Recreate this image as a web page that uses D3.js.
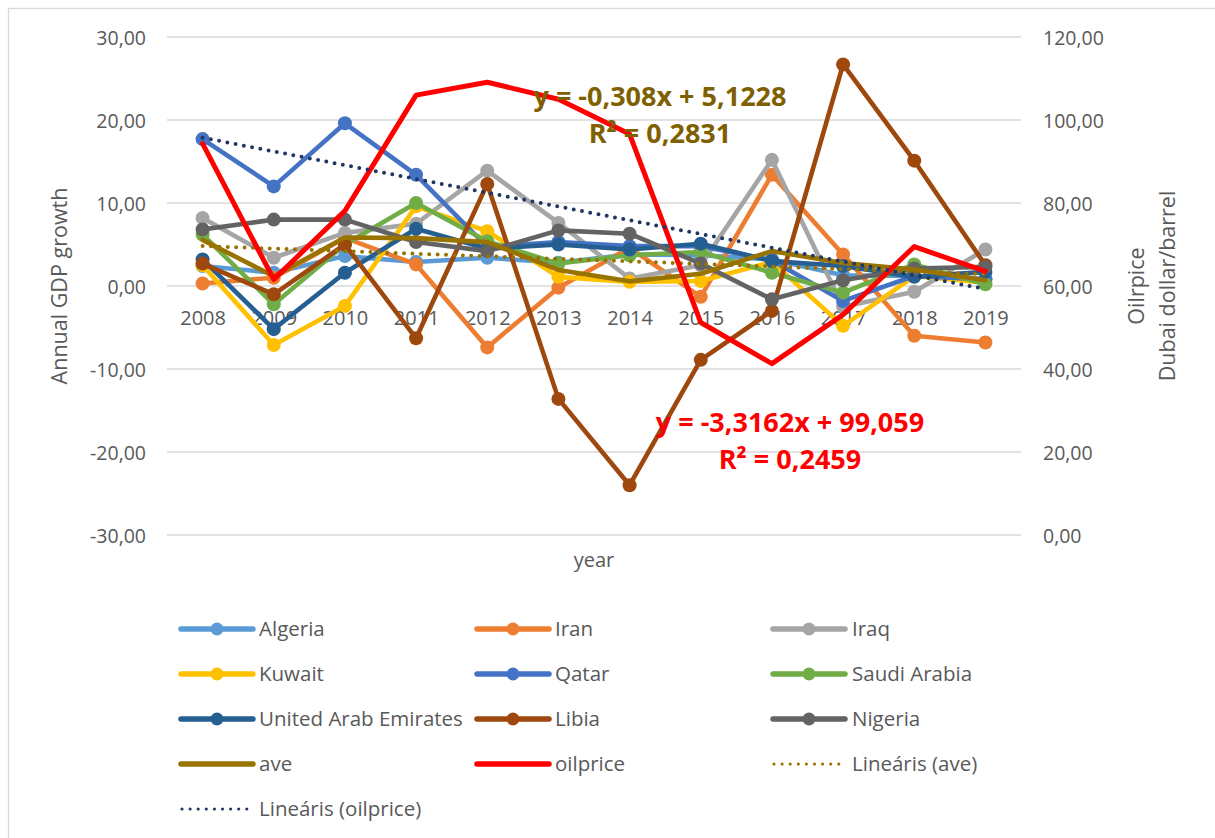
<!DOCTYPE html>
<html>
<head>
<meta charset="utf-8">
<script src="https://cdn.jsdelivr.net/npm/d3@7"></script>
<style>
  html, body { margin: 0; padding: 0; background: #fff; }
  svg { display: block; font-family: "Open Sans", "Liberation Sans", sans-serif; }
</style>
</head>
<body>
<svg id="chart" width="1215" height="838"></svg>
<script>
// ---- data ----
const years = ["2008","2009","2010","2011","2012","2013","2014","2015","2016","2017","2018","2019"];

const algeria = [2.4, 1.6, 3.6, 2.9, 3.4, 2.8, 3.8, 3.7, 3.2, 1.3, 1.2, 0.8];
const iran    = [0.3, 1.0, 5.8, 2.6, -7.4, -0.2, 4.6, -1.3, 13.4, 3.8, -6.0, -6.8];
const iraq    = [8.2, 3.4, 6.4, 7.5, 13.9, 7.6, 0.9, 2.5, 15.2, -2.5, -0.7, 4.4];
const kuwait  = [2.5, -7.1, -2.4, 9.6, 6.6, 1.1, 0.5, 0.6, 2.9, -4.8, 1.2, 0.4];
const qatar   = [17.7, 12.0, 19.6, 13.4, 4.7, 5.3, 4.8, 4.8, 3.1, -1.8, 1.2, 0.8];
const saudi   = [6.2, -2.2, 5.0, 10.0, 5.4, 2.7, 3.7, 4.1, 1.6, -0.8, 2.6, 0.2];
const uae     = [3.2, -5.2, 1.6, 6.9, 4.5, 5.0, 4.4, 5.1, 3.0, 2.4, 1.1, 1.7];
const libia   = [2.7, -1.0, 5.0, -6.3, 12.3, -13.6, -24.0, -8.9, -3.0, 26.7, 15.1, 2.5];
const nigeria = [6.8, 8.0, 8.0, 5.3, 4.2, 6.7, 6.3, 2.7, -1.6, 0.7, 2.1, 2.3];
const ave     = [5.56, 1.17, 5.84, 5.77, 5.29, 1.93, 0.56, 1.48, 4.20, 2.78, 1.98, 0.70];
const oilprice = [94.3, 61.6, 78.1, 106.0, 109.1, 105.0, 96.6, 51.2, 41.3, 53.1, 69.5, 63.5];

// linear trend coefficients [slope, intercept], x = 1..12
const aveTrend = [-0.308, 5.1228];
const oilTrend = [-3.3162, 99.059];
const aveTrendLabel = ["y = -0,308x + 5,1228", "R² = 0,2831"];
const oilTrendLabel = ["y = -3,3162x + 99,059", "R² = 0,2459"];

const leftTicks = [-30, -20, -10, 0, 10, 20, 30];
const rightTicks = [0, 20, 40, 60, 80, 100, 120];

const countries = [
  { name: "Algeria", values: algeria, color: "#5B9BD5" },
  { name: "Iran", values: iran, color: "#ED7D31" },
  { name: "Iraq", values: iraq, color: "#A5A5A5" },
  { name: "Kuwait", values: kuwait, color: "#FFC000" },
  { name: "Qatar", values: qatar, color: "#4472C4" },
  { name: "Saudi Arabia", values: saudi, color: "#70AD47" },
  { name: "United Arab Emirates", values: uae, color: "#255E91" },
  { name: "Libia", values: libia, color: "#9E480E" },
  { name: "Nigeria", values: nigeria, color: "#636363" }
];
const aveColor = "#997300";
const oilColor = "#FF0000";
const oilTrendColor = "#203864";
const textColor = "#595959";
const gridColor = "#D9D9D9";

// ---- layout ----
const svg = d3.select("#chart");
const plot = { left: 167, right: 1021, top: 37, bottom: 535 };
const midY = (plot.top + plot.bottom) / 2;

const x = d3.scalePoint().domain(years).range([plot.left, plot.right]).padding(0.5);
const yL = d3.scaleLinear().domain([-30, 30]).range([plot.bottom, plot.top]);
const yR = d3.scaleLinear().domain([0, 120]).range([plot.bottom, plot.top]);

const loc = d3.formatLocale({ decimal: ",", thousands: " ", grouping: [3], currency: ["", ""], minus: "-" });
const fmt = loc.format(".2f");

// outer frame
svg.append("rect").attr("x", 8.5).attr("y", 8.5).attr("width", 1240).attr("height", 860)
  .attr("fill", "none").attr("stroke", gridColor).attr("stroke-width", 1.3);

// gridlines
svg.append("g").selectAll("line").data(leftTicks).join("line")
  .attr("x1", plot.left).attr("x2", plot.right)
  .attr("y1", d => yL(d)).attr("y2", d => yL(d))
  .attr("stroke", gridColor).attr("stroke-width", 1.5);

// left axis labels
const leftAxis = d3.axisLeft(yL).tickValues(leftTicks).tickFormat(fmt).tickSize(0).tickPadding(0);
svg.append("g").attr("transform", "translate(146,0)").call(leftAxis)
  .call(g => g.select(".domain").remove())
  .call(g => g.selectAll("text").attr("fill", textColor).attr("font-size", 19.5)
    .attr("font-family", "'Open Sans', sans-serif").attr("dy", "0.36em"));

// right axis labels
const rightAxis = d3.axisRight(yR).tickValues(rightTicks).tickFormat(fmt).tickSize(0).tickPadding(0);
svg.append("g").attr("transform", "translate(1043,0)").call(rightAxis)
  .call(g => g.select(".domain").remove())
  .call(g => g.selectAll("text").attr("fill", textColor).attr("font-size", 19.5)
    .attr("font-family", "'Open Sans', sans-serif").attr("dy", "0.36em"));

// category labels sit just below the zero line
const xAxis = d3.axisBottom(x).tickSize(0).tickPadding(0);
svg.append("g").attr("transform", `translate(0,${yL(0)})`).call(xAxis)
  .call(g => g.select(".domain").remove())
  .call(g => g.selectAll("text").attr("fill", textColor).attr("font-size", 20)
    .attr("font-family", "'Open Sans', sans-serif").attr("dy", "0").attr("y", 39));

// axis titles
svg.append("text").attr("transform", `translate(67,${midY}) rotate(-90)`)
  .attr("text-anchor", "middle").attr("fill", textColor).attr("font-size", 21.5).text("Annual GDP growth");
svg.append("text").attr("transform", `translate(1144,${midY}) rotate(-90)`)
  .attr("text-anchor", "middle").attr("fill", textColor).attr("font-size", 21.5).text("Oilrpice");
svg.append("text").attr("transform", `translate(1175,${midY}) rotate(-90)`)
  .attr("text-anchor", "middle").attr("fill", textColor).attr("font-size", 21.5).text("Dubai dollar/barrel");
svg.append("text").attr("x", 594).attr("y", 567).attr("text-anchor", "middle")
  .attr("fill", textColor).attr("font-size", 20).text("year");

// ---- series ----
const lineL = d3.line().x((d, i) => x(years[i])).y(d => yL(d));
const lineR = d3.line().x((d, i) => x(years[i])).y(d => yR(d));
const R = 7;

const series = svg.append("g");
countries.forEach(c => {
  const g = series.append("g");
  g.append("path").datum(c.values).attr("d", lineL).attr("fill", "none")
    .attr("stroke", c.color).attr("stroke-width", 4.6).attr("stroke-linejoin", "round").attr("stroke-linecap", "round");
  g.selectAll("circle").data(c.values).join("circle")
    .attr("cx", (d, i) => x(years[i])).attr("cy", d => yL(d)).attr("r", R).attr("fill", c.color);
});

// average of the countries
series.append("path").datum(ave).attr("d", lineL).attr("fill", "none")
  .attr("stroke", aveColor).attr("stroke-width", 4.6).attr("stroke-linejoin", "round").attr("stroke-linecap", "round");

// linear trend of the average
const trendIdx = d3.range(1, years.length + 1);
series.append("path").datum(trendIdx.map(t => aveTrend[0] * t + aveTrend[1]))
  .attr("d", lineL).attr("fill", "none").attr("stroke", aveColor).attr("stroke-width", 4)
  .attr("stroke-linecap", "round").attr("stroke-dasharray", "0 8.4");

// oil price on the secondary axis
series.append("path").datum(oilprice).attr("d", lineR).attr("fill", "none")
  .attr("stroke", oilColor).attr("stroke-width", 5).attr("stroke-linejoin", "round").attr("stroke-linecap", "round");

series.append("path").datum(trendIdx.map(t => oilTrend[0] * t + oilTrend[1]))
  .attr("d", lineR).attr("fill", "none").attr("stroke", oilTrendColor).attr("stroke-width", 4)
  .attr("stroke-linecap", "round").attr("stroke-dasharray", "0 8.4");

// trendline equations
function eqLabel(lines, cx, y0, color) {
  const t = svg.append("text").attr("text-anchor", "middle").attr("fill", color)
    .attr("font-weight", "bold").attr("font-size", 27);
  lines.forEach((s, i) => {
    t.append("tspan").attr("x", cx).attr("y", y0 + i * 37).text(s);
  });
}
eqLabel(aveTrendLabel, 660, 106, "#7F6000");
eqLabel(oilTrendLabel, 790, 432, oilColor);

// ---- legend ----
const legendItems = [
  ...countries.map(c => ({ name: c.name, color: c.color, type: "marker" })),
  { name: "ave", color: aveColor, type: "line" },
  { name: "oilprice", color: oilColor, type: "line" },
  { name: "Lineáris (ave)", color: aveColor, type: "dots" },
  { name: "Lineáris (oilprice)", color: oilTrendColor, type: "dots" }
];
const colX = [181, 477, 773];
const rowY0 = 629, rowStep = 45;
const legend = svg.append("g");
legendItems.forEach((it, i) => {
  const cx = colX[i % 3], cy = rowY0 + Math.floor(i / 3) * rowStep;
  const g = legend.append("g").attr("transform", `translate(${cx},${cy})`);
  if (it.type === "dots") {
    g.append("line").attr("x1", 1).attr("x2", 66).attr("y1", 0).attr("y2", 0)
      .attr("stroke", it.color).attr("stroke-width", 3.2).attr("stroke-linecap", "round")
      .attr("stroke-dasharray", "0 8.1");
  } else {
    g.append("line").attr("x1", 0).attr("x2", 72).attr("y1", 0).attr("y2", 0)
      .attr("stroke", it.color).attr("stroke-width", 5.5).attr("stroke-linecap", "round");
    if (it.type === "marker") g.append("circle").attr("cx", 36).attr("cy", 0).attr("r", 6.5).attr("fill", it.color);
  }
  g.append("text").attr("x", i % 3 === 2 ? 79 : 78).attr("y", 7)
    .attr("fill", textColor).attr("font-size", 20.5).text(it.name);
});
</script>
</body>
</html>
